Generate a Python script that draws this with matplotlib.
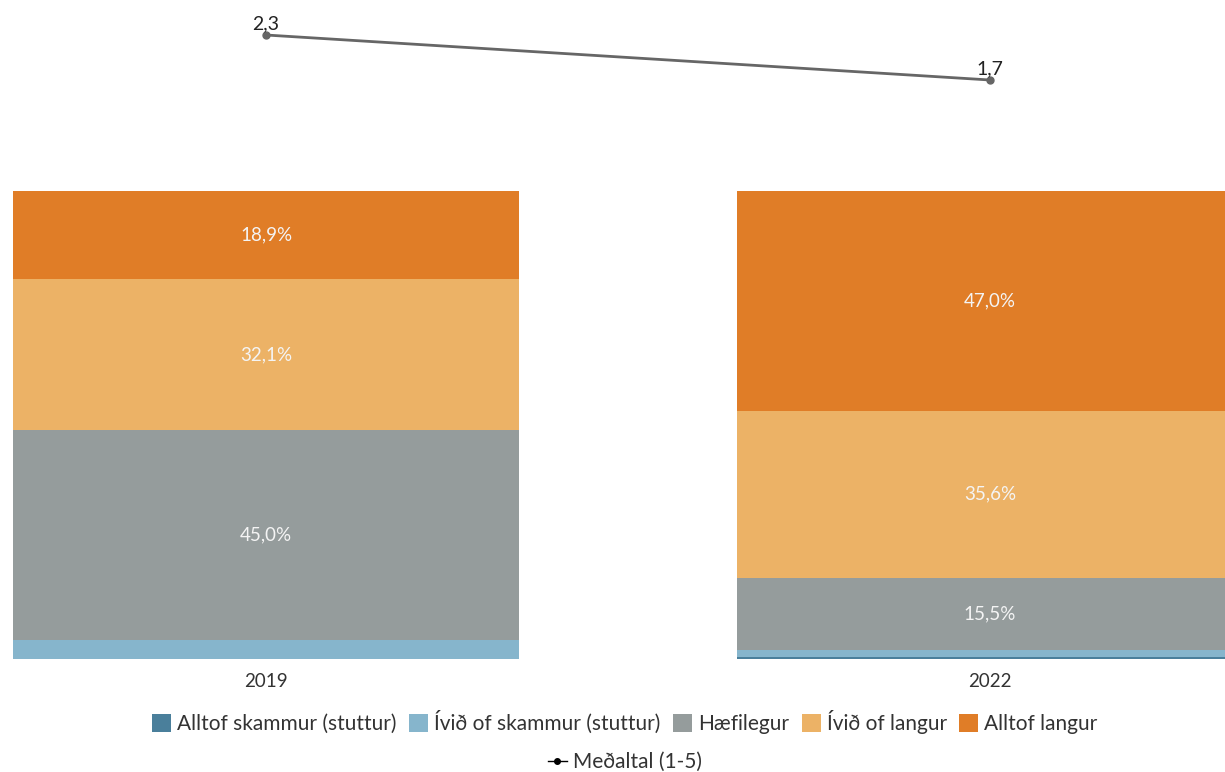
import numpy as np
import matplotlib.pyplot as plt
from matplotlib.patches import Patch
from matplotlib.lines import Line2D

plt.rcParams['font.family'] = ['Lato', 'DejaVu Sans']

ar = ['2019', '2022']
flokkar = ['Alltof skammur (stuttur)', 'Ívið of skammur (stuttur)', 'Hæfilegur',
           'Ívið of langur', 'Alltof langur']
litir = ['#4a7f9b', '#86b5cc', '#959c9c', '#ecb266', '#e07d27']
gildi = {
    'Alltof skammur (stuttur)': [0.0, 0.4],
    'Ívið of skammur (stuttur)': [4.0, 1.5],
    'Hæfilegur': [45.0, 15.5],
    'Ívið of langur': [32.1, 35.6],
    'Alltof langur': [18.9, 47.0],
}
medaltal = [2.3, 1.7]

W, H = 1225, 772
fig = plt.figure(figsize=(W / 100, H / 100), dpi=100)
ax = fig.add_axes([0, (H - 659) / H, 1, 649 / H])

x = np.arange(len(ar))
botn = np.zeros(len(ar))
for nafn, lit in zip(flokkar, litir):
    v = np.array(gildi[nafn])
    ax.bar(x, v, bottom=botn, width=0.70, color=lit, linewidth=0)
    for i in range(len(ar)):
        if v[i] >= 10:
            ax.text(x[i], botn[i] + v[i] / 2, f'{v[i]:.1f}%'.replace('.', ','),
                    ha='center', va='center', color='#f4f4f4', fontsize=13.5)
    botn += v

ax.set_xlim(-266 / 724, (1225 - 266) / 724)
ax.set_ylim(0, 100 * 649 / 468)
ax.set_xticks(x)
ax.set_xticklabels(ar, fontsize=13.5, color='#333333')
ax.tick_params(axis='x', length=0, pad=10)
ax.set_yticks([])
for s in ax.spines.values():
    s.set_visible(False)

ax2 = ax.twinx()
ax2.plot(x, medaltal, color='#666666', linewidth=2, marker='o', markersize=5)
for i, m in enumerate(medaltal):
    ax2.annotate(f'{m:.1f}'.replace('.', ','), (x[i], m), xytext=(0, 2),
                 textcoords='offset points', ha='center', va='bottom',
                 fontsize=14, color='#222222')
ax2.set_ylim(2.3 - 624 / 75, 2.3 - 624 / 75 + 649 / 75)
ax2.set_yticks([])
for s in ax2.spines.values():
    s.set_visible(False)

handles = [Patch(facecolor=c, edgecolor='none') for c in litir]
fig.legend(handles, flokkar, loc='center', bbox_to_anchor=(625 / W, 1 - 722 / H),
           ncol=5, frameon=False, fontsize=15, handlelength=0.9, handleheight=1.0,
           handletextpad=0.3, columnspacing=0.6, labelcolor='#333333')
lh = [Line2D([0], [0], color='black', marker='o', markersize=4, linewidth=1)]
fig.legend(lh, ['Meðaltal (1-5)'], loc='center', bbox_to_anchor=(625 / W, 1 - 762 / H),
           frameon=False, fontsize=15, handlelength=0.9, handletextpad=0.3,
           labelcolor='#333333')

fig.savefig('out.png', dpi=100)
